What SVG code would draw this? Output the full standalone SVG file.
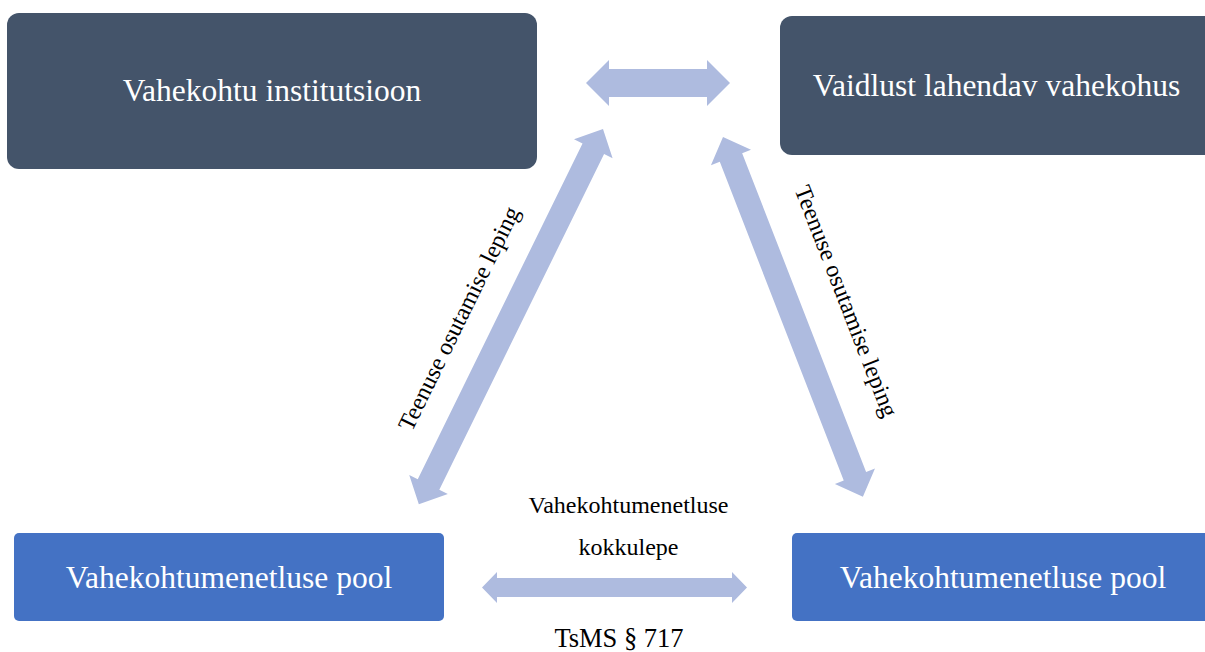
<svg xmlns="http://www.w3.org/2000/svg" width="1205" height="652" viewBox="0 0 1205 652">
<style>
.dark{fill:#44546a}
.blue{fill:#4472c4}
.arrow{fill:#aebbdf}
.nl{font-family:"Liberation Serif","Times New Roman",serif;font-size:31.5px;fill:#ffffff;text-anchor:middle}
.lbl{font-family:"Liberation Serif","Times New Roman",serif;font-size:24px;fill:#000000;text-anchor:middle}
</style>
<rect width="1205" height="652" fill="#ffffff"/>
<g id="connectors">
<polygon class="arrow" points="586,83 609,60 609,69 707,69 707,60 730,83 707,106 707,97 609,97 609,106"/>
<polygon class="arrow" points="482,587.5 497,572 497,578 732,578 732,572 747,587.5 732,603 732,597 497,597 497,603"/>
<polygon class="arrow" transform="translate(603,129) rotate(116.14)" points="0,0 22,-21.5 22,-12 396,-12 396,-21.5 418,0 396,21.5 396,12 22,12 22,21.5"/>
<polygon class="arrow" transform="translate(723,137) rotate(68.75)" points="0,0 22,-21.5 22,-12 364,-12 364,-21.5 386,0 364,21.5 364,12 22,12 22,21.5"/>
<text class="lbl" transform="translate(466,322) rotate(-63.86)">Teenuse osutamise leping</text>
<text class="lbl" transform="translate(839,304) rotate(68.75)">Teenuse osutamise leping</text>
<text class="lbl" x="628.5" y="513">Vahekohtumenetluse</text>
<text class="lbl" x="628.5" y="555">kokkulepe</text>
<text class="lbl" x="619" y="647" style="font-size:26.5px">TsMS § 717</text>
</g>
<g id="node-institutsioon">
<rect class="dark" x="7" y="13" width="530" height="156" rx="12"/>
<text class="nl" x="272" y="101">Vahekohtu institutsioon</text>
</g>
<g id="node-vahekohus">
<rect class="dark" x="780" y="16" width="440" height="139" rx="12"/>
<text class="nl" x="996.5" y="96">Vaidlust lahendav vahekohus</text>
</g>
<g id="node-pool-left">
<rect class="blue" x="14" y="533" width="430" height="88" rx="5"/>
<text class="nl" x="229" y="588">Vahekohtumenetluse pool</text>
</g>
<g id="node-pool-right">
<rect class="blue" x="792" y="533" width="430" height="88" rx="5"/>
<text class="nl" x="1003" y="588">Vahekohtumenetluse pool</text>
</g>
</svg>
